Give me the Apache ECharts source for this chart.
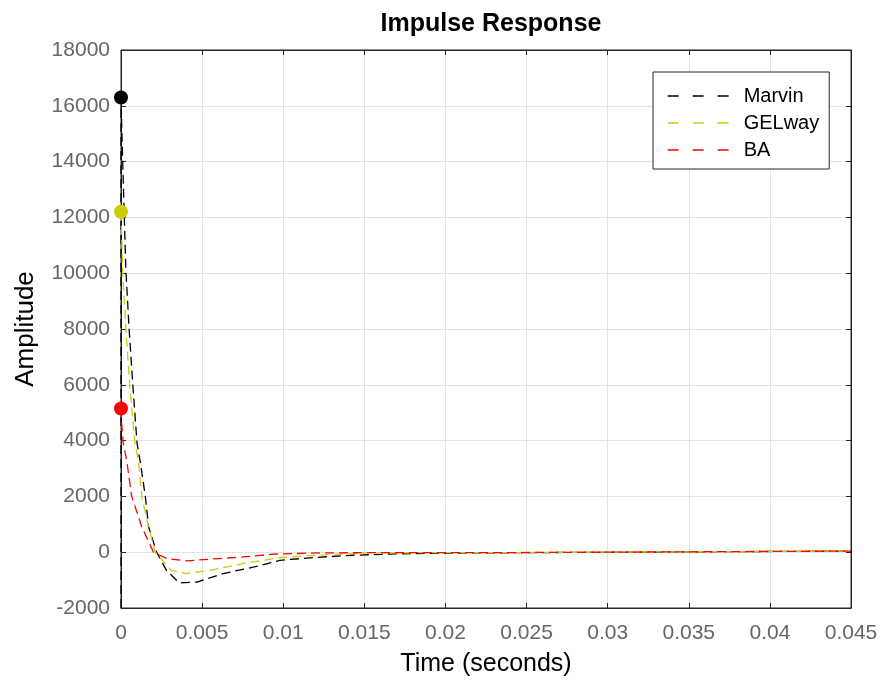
<!DOCTYPE html>
<html>
<head>
<meta charset="utf-8">
<script src="https://cdn.jsdelivr.net/npm/echarts@6/dist/echarts.min.js"></script>
<style>
  html, body { margin: 0; padding: 0; background: #fff; }
  #chart { width: 886px; height: 681px; }
</style>
</head>
<body>
<div id="chart"></div>
<script>
// time axis ticks
const xTicks = [0, 0.005, 0.01, 0.015, 0.02, 0.025, 0.03, 0.035, 0.04, 0.045]

// Marvin
const marvinT = [0, 0, 0.0001, 0.0003, 0.0005, 0.00074, 0.00099, 0.0012, 0.0015, 0.0017, 0.0022, 0.0028, 0.0036, 0.0047, 0.0063, 0.0082, 0.0098, 0.0119, 0.0143, 0.0164, 0.02, 0.0235, 0.0236, 0.045]
const marvinV = [-2000, 16300, 14100, 10100, 8000, 5900, 3900, 3200, 2000, 910, 0, -650, -1100, -1070, -765, -530, -290, -190, -110, -70, -30, -20, 40, 40]

// GELway
const gelwayT = [0, 0.0001, 0.0003, 0.00055, 0.00086, 0.00107, 0.00128, 0.0017, 0.0021, 0.0031, 0.004, 0.0055, 0.0075, 0.0098, 0.012, 0.0152, 0.02, 0.0235, 0.0236, 0.045]
const gelwayV = [12200, 10100, 8000, 5900, 3900, 3300, 2000, 910, 0, -650, -765, -650, -410, -190, -110, -25, -15, -15, 40, 40]

// BA
const baT = [0, 0.00004, 0.00014, 0.00035, 0.00066, 0.00128, 0.002, 0.0028, 0.004, 0.0055, 0.0075, 0.0094, 0.0121, 0.016, 0.0235, 0.0236, 0.045]
const baV = [5150, 4630, 3900, 3300, 2000, 910, 0, -225, -310, -250, -170, -70, -25, -15, -15, 40, 40]

// peak markers
const peakNames = ['Marvin', 'GELway', 'BA']
const peakT = [0, 0, 0]
const peakV = [16300, 12200, 5150]

const colors = ['#000000', '#cccc00', '#ff0000']
const font = 'Liberation Sans, Arial, Helvetica, sans-serif'

const zip = (t, v) => t.map((x, i) => [x, v[i]])

const lineSeries = (name, t, v, color) => ({
  name: name,
  type: 'line',
  data: zip(t, v),
  symbol: 'none',
  lineStyle: { color: color, width: 1.3, type: [9, 5] },
  itemStyle: { color: color },
  animation: false,
  z: 3
})

const markerSeries = peakNames.map((n, i) => ({
  name: n + ' peak',
  type: 'scatter',
  data: [[peakT[i], peakV[i]]],
  symbolSize: 14,
  clip: false,
  itemStyle: { color: colors[i], opacity: 1 },
  animation: false,
  z: 5
}))

const chart = echarts.init(document.getElementById('chart'))

const tickStyle = { show: true, inside: true, length: 5, lineStyle: { color: '#262626' } }

chart.setOption({
  backgroundColor: '#fff',
  title: {
    text: 'Impulse Response',
    left: 486,
    top: 7,
    textAlign: 'center',
    textStyle: { fontFamily: font, fontSize: 25, fontWeight: 'bold', color: '#000' }
  },
  grid: {
    left: 121, right: 35, top: 50, bottom: 73,
    outerBoundsMode: 'none',
    containLabel: false,
    show: true, borderColor: '#262626', borderWidth: 1, backgroundColor: '#fff'
  },
  legend: {
    data: peakNames,
    orient: 'vertical',
    left: 653,
    top: 72,
    padding: [14, 10, 9, 14],
    itemWidth: 68,
    itemHeight: 14,
    itemGap: 7,
    itemStyle: { opacity: 0 },
    lineStyle: { type: [11, 14], width: 1.3 },
    backgroundColor: '#fff',
    borderColor: '#262626',
    borderWidth: 1,
    borderRadius: 0,
    textStyle: { fontFamily: font, fontSize: 20, color: '#000', padding: [0, 0, 0, 3] }
  },
  xAxis: [{
    type: 'value',
    min: 0,
    max: 0.045,
    interval: 0.005,
    name: 'Time (seconds)',
    nameLocation: 'middle',
    nameGap: 44,
    nameTextStyle: { fontFamily: font, fontSize: 25, color: '#000' },
    axisLabel: {
      fontFamily: font, fontSize: 21, color: '#666', margin: 15,
      formatter: v => xTicks.includes(+v.toFixed(3)) ? String(+v.toFixed(3)) : ''
    },
    axisLine: { show: true, onZero: false, lineStyle: { color: '#262626', width: 1 } },
    axisTick: tickStyle,
    splitLine: { show: true, lineStyle: { color: '#e3e3e3', width: 1 } }
  }, {
    type: 'value',
    position: 'top',
    min: 0,
    max: 0.045,
    interval: 0.005,
    axisLabel: { show: false },
    axisLine: { show: true, onZero: false, lineStyle: { color: '#262626' } },
    axisTick: tickStyle,
    splitLine: { show: false }
  }],
  yAxis: [{
    type: 'value',
    min: -2000,
    max: 18000,
    interval: 2000,
    name: 'Amplitude',
    nameLocation: 'middle',
    nameGap: 82,
    nameTextStyle: { fontFamily: font, fontSize: 26, color: '#000' },
    axisLabel: { fontFamily: font, fontSize: 21, color: '#666', margin: 11, formatter: v => String(v) },
    axisLine: { show: true, onZero: false, lineStyle: { color: '#262626', width: 1 } },
    axisTick: tickStyle,
    splitLine: { show: true, lineStyle: { color: '#e3e3e3', width: 1 } }
  }, {
    type: 'value',
    position: 'right',
    min: -2000,
    max: 18000,
    interval: 2000,
    axisLabel: { show: false },
    axisLine: { show: true, onZero: false, lineStyle: { color: '#262626' } },
    axisTick: tickStyle,
    splitLine: { show: false }
  }],
  series: [
    lineSeries('Marvin', marvinT, marvinV, colors[0]),
    lineSeries('GELway', gelwayT, gelwayV, colors[1]),
    lineSeries('BA', baT, baV, colors[2]),
    ...markerSeries
  ]
})
</script>
</body>
</html>
